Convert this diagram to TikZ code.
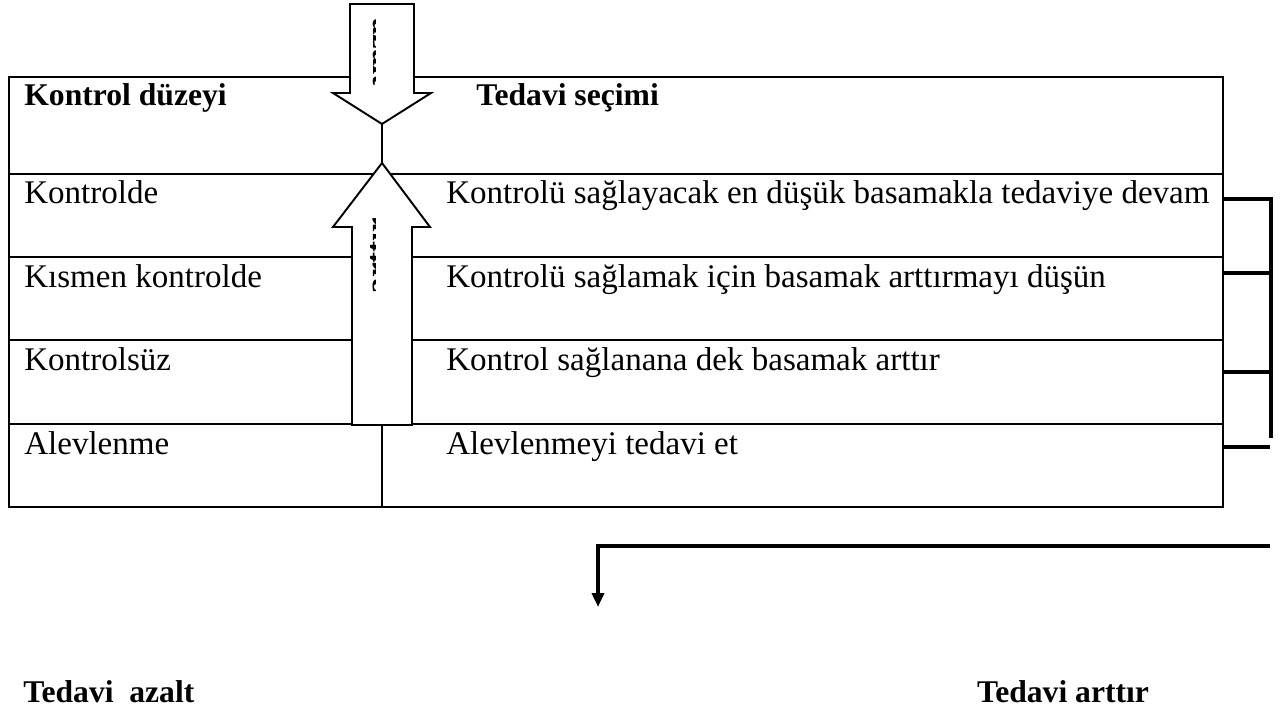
\documentclass[tikz,border=0pt]{standalone}
\usepackage{fontspec}
\setmainfont{Liberation Serif}
\usetikzlibrary{shapes,arrows.meta}

\begin{document}
\begin{tikzpicture}[x=0.02cm,y=-0.02cm]
\tikzstyle{cell}=[anchor=base west,inner sep=0pt,font=\fontsize{18.8}{22}\selectfont]
\tikzstyle{head}=[cell,font=\fontsize{18}{22}\selectfont\bfseries]
\tikzstyle{grid}=[line width=1.1pt]
\tikzstyle{blockarrow}=[draw,line width=1.1pt,fill=white,line join=miter]
\tikzstyle{bar}=[line width=2.8pt]
\useasboundingbox (0,0) rectangle (1283,709);
% table
\draw[grid] (9,77) rectangle (1223,507);
\foreach \y in {174,257,340,424} \draw[grid] (9,\y) -- (1223,\y);
\draw[grid] (382,77) -- (382,507);
\node[head] (lvl) at (24,106) {Kontrol düzeyi};
\node[head] (sel) at (476,106) {Tedavi seçimi};
\node[cell] (c1) at (24,204) {Kontrolde};
\node[cell] (t1) at (446,204) {Kontrolü sağlayacak en düşük basamakla tedaviye devam};
\node[cell] (c2) at (24,287) {Kısmen kontrolde};
\node[cell] (t2) at (446,287) {Kontrolü sağlamak için basamak arttırmayı düşün};
\node[cell] (c3) at (24,370) {Kontrolsüz};
\node[cell] (t3) at (446,370) {Kontrol sağlanana dek basamak arttır};
\node[cell] (c4) at (24,454) {Alevlenme};
\node[cell] (t4) at (446,454) {Alevlenmeyi tedavi et};
% block arrows
\draw[blockarrow] (350,4) -- (414,4) -- (414,93) -- (431,93) -- (382,124) -- (333,93) -- (350,93) -- cycle;
\draw[blockarrow] (352,425) -- (412,425) -- (412,227) -- (430,227) -- (382,163) -- (333,227) -- (352,227) -- cycle;
\begin{scope}
\clip (370,15) rectangle (375,90);
\node[font=\fontsize{18.8}{22}\selectfont\bfseries,rotate=-90] (dwn) at (385,52) {azalt};
\end{scope}
\begin{scope}
\clip (370,215) rectangle (375,298);
\node[font=\fontsize{18.8}{22}\selectfont\bfseries,rotate=90] (up) at (379,256) {arttır};
\end{scope}
% bracket
\coordinate (k1) at (1223,199);
\coordinate (k2) at (1223,273);
\coordinate (k3) at (1223,372);
\coordinate (k4) at (1223,447);
\coordinate (kb) at (1271,438);
\draw[bar,line join=miter] (k1) -- ++(48,0) -- (kb);
\draw[bar] (k2) -- ++(48,0);
\draw[bar] (k3) -- ++(48,0);
\draw[line width=1.8pt] (k4) -- ++(47,0);
% lower arrow
\coordinate (br) at (1270,546);
\coordinate (dn) at (598,607);
\draw[bar,line join=miter,-{Triangle[length=0.28cm,width=0.24cm]}] (br) -| (dn);
\node[head] (dec) at (23,702) {Tedavi\ \ azalt};
\node[head,anchor=base] (inc) at (1063,702) {Tedavi arttır};
\end{tikzpicture}
\end{document}
